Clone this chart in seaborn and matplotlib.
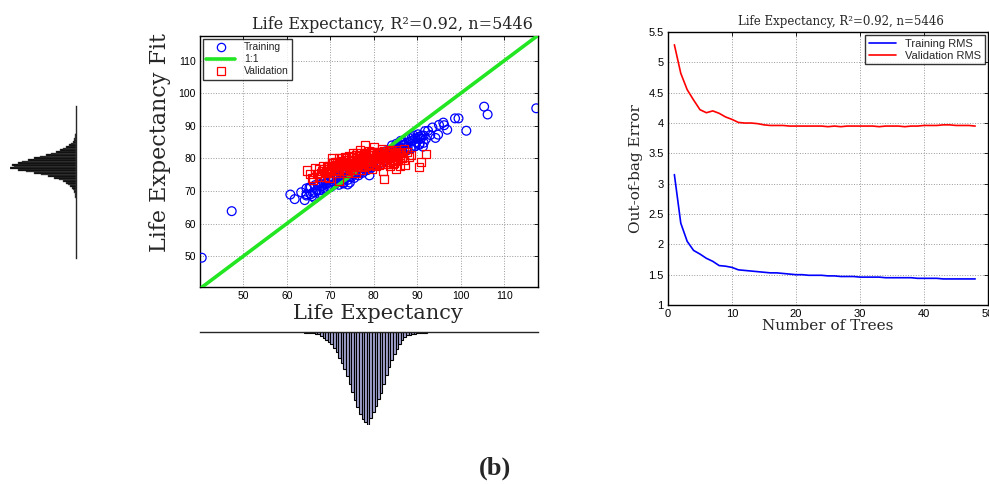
import numpy as np
import pandas as pd
import matplotlib
matplotlib.use("Agg")
import matplotlib.pyplot as plt
from matplotlib.lines import Line2D
from matplotlib.ticker import FormatStrFormatter
import seaborn as sns

# scatter: observed vs fitted life expectancy
train_x = [40.4, 47.3, 60.8, 61.8, 63.3, 64.1, 64.5, 65.2, 65.8, 66.4, 66.9, 67.5, 68.0, 68.4,
           69.0, 69.3, 70.1, 70.5, 71.0, 71.6, 72.0, 72.5, 73.0, 73.5, 74.0, 74.5, 75.0, 75.5,
           76.0, 76.5, 77.0, 77.5, 78.0, 78.5, 79.0, 79.5, 80.0, 80.5, 81.0, 81.5, 82.0, 82.5,
           83.0, 83.5, 84.0, 84.5, 85.0, 85.5, 86.0, 86.5, 87.0, 87.5, 88.0, 88.5, 89.0, 89.5,
           90.0, 90.5, 91.0, 91.3, 92.0, 92.5, 93.0, 93.5, 94.2, 94.8, 95.0, 96.0, 96.2, 96.9,
           98.7, 99.5, 101.3, 105.4, 106.2, 117.4, 66.0, 67.2, 68.8, 70.0, 71.2, 72.8, 73.8,
           74.8, 75.8, 76.8, 77.8, 78.8, 79.8, 80.8, 81.8, 82.8, 83.8, 84.8, 85.8, 86.8, 87.8,
           88.8, 89.8, 90.8, 88.2, 89.2, 90.2, 91.8, 86.2, 84.2, 85.2, 79.0, 73.0, 74.0,
           64.5, 65.5, 66.5, 67.5, 68.5, 69.5, 70.5, 71.5, 72.5, 73.5, 74.5, 75.5, 76.5, 77.5,
           78.5, 79.5, 80.5, 81.5, 82.5, 83.5, 84.5, 85.5, 86.5, 87.5, 88.5, 89.5, 90.5, 91.5,
           64.5, 65.5, 66.5, 67.5, 68.5, 69.5, 70.5, 71.5, 72.5, 73.5, 74.5, 75.5, 76.5, 77.5,
           78.5, 79.5, 80.5, 81.5, 82.5, 83.5, 84.5, 85.5, 86.5, 87.5, 88.5, 89.5, 90.5, 91.5]
train_y = [49.5, 63.8, 68.9, 67.5, 69.6, 67.2, 69.0, 71.1, 68.4, 67.8, 70.3, 69.1, 71.5, 70.2,
           72.3, 70.8, 71.2, 73.0, 72.0, 73.8, 71.9, 74.5, 72.6, 75.2, 73.4, 72.6, 75.8, 74.0,
           76.5, 74.8, 77.2, 75.6, 78.0, 76.4, 78.5, 77.2, 79.2, 77.8, 80.0, 78.6, 80.8, 79.2,
           81.5, 79.8, 82.2, 80.5, 82.8, 81.0, 83.5, 81.8, 84.2, 82.5, 85.0, 83.0, 85.6, 83.8,
           86.2, 84.5, 87.0, 83.6, 86.0, 88.5, 87.2, 89.5, 86.3, 87.3, 90.3, 91.0, 90.2, 88.8,
           92.3, 92.3, 88.5, 95.9, 93.5, 95.4, 69.5, 71.8, 73.4, 74.2, 74.9, 73.0, 76.5,
           74.2, 77.5, 75.5, 77.0, 79.5, 78.0, 81.0, 79.5, 82.2, 80.8, 83.5, 82.0, 84.8, 83.5,
           86.5, 85.0, 86.0, 86.2, 87.0, 87.4, 88.4, 85.4, 84.0, 84.5, 74.8, 72.3, 72.0,
           70.8, 71.2, 71.8, 72.4, 73.0, 73.6, 74.3, 74.9, 75.5, 76.1, 76.7, 77.3, 77.9, 78.6,
           79.2, 79.8, 80.4, 81.0, 81.6, 82.3, 82.9, 83.5, 84.1, 84.7, 85.3, 86.0, 86.6, 87.0,
           68.6, 69.0, 69.6, 70.2, 70.8, 71.4, 72.0, 72.6, 73.2, 73.9, 74.5, 75.1, 75.7, 76.3,
           76.9, 77.5, 78.1, 78.8, 79.4, 80.0, 80.6, 81.2, 81.8, 82.4, 83.0, 83.7, 84.2, 84.8]

valid_x = [64.6, 65.3, 65.8, 66.0, 66.4, 66.9, 67.5, 68.0, 68.4, 68.8, 69.2, 69.6, 70.0, 70.3,
           70.8, 71.2, 71.6, 72.0, 72.2, 72.6, 73.0, 73.4, 73.8, 74.2, 74.6, 75.0, 75.2, 75.5,
           75.9, 76.2, 76.5, 76.8, 77.1, 77.4, 77.8, 78.0, 78.3, 78.6, 78.9, 79.2, 79.5, 79.8,
           80.0, 80.3, 80.6, 80.9, 81.2, 81.5, 81.8, 82.1, 82.3, 82.6, 83.0, 83.3, 83.7, 84.0,
           84.4, 84.8, 85.2, 85.6, 86.0, 86.5, 87.0, 87.2, 88.0, 88.6, 90.4, 90.9, 92.0, 70.5,
           72.8, 74.4, 76.0, 77.5, 79.0, 80.5, 82.0, 83.5, 75.0, 77.0, 81.0, 83.0, 85.0, 73.5,
           71.5, 69.5, 67.5,
           68.5, 70.2, 71.8, 73.2, 74.7, 76.3, 78.1, 79.6, 81.3, 83.1, 84.6,
           69.8, 71.3, 72.9, 74.1, 75.8, 77.2, 78.9, 80.2, 82.4, 83.8, 85.3,
           71.0, 72.4, 74.0, 75.4, 76.9, 78.4, 79.9, 81.6, 82.9, 84.4, 86.1,
           73.3, 74.9, 76.6, 78.2, 79.7, 81.1, 82.7, 84.1, 85.6,
           76.1, 77.9, 79.4, 80.8, 82.3, 84.0,
           67.8, 69.1, 71.5, 73.6, 75.1, 77.0,
           69.3, 70.9, 72.5, 74.0, 75.6, 77.3, 78.9, 80.5, 82.1, 83.7, 85.4, 86.9,
           70.6, 72.1, 73.7, 75.3, 76.8, 78.4, 80.0, 81.5, 83.2, 84.8, 86.5,
           72.0, 73.6, 75.1, 76.7, 78.3, 79.8, 81.4, 83.0, 84.6, 86.2, 87.7]
valid_y = [76.3, 75.3, 74.0, 73.3, 76.9, 75.2, 74.2, 76.0, 77.8, 74.3, 75.5, 73.9, 76.2, 78.6,
           77.0, 75.4, 78.9, 73.0, 77.8, 76.3, 79.0, 77.2, 75.6, 78.5, 76.8, 79.5, 81.6, 77.6,
           75.6, 80.0, 78.4, 82.6, 79.5, 77.4, 81.2, 84.2, 79.6, 78.0, 82.4, 80.2, 76.8, 81.6,
           83.4, 79.0, 77.6, 82.0, 80.2, 78.4, 83.0, 76.3, 73.7, 80.8, 79.0, 81.8, 77.6, 80.4,
           78.2, 81.2, 76.9, 79.4, 77.8, 80.2, 82.8, 78.0, 80.5, 81.0, 77.4, 78.8, 81.3, 80.0,
           80.2, 80.6, 81.0, 80.4, 79.2, 80.8, 81.6, 82.4, 78.3, 78.8, 79.0, 80.0, 82.6, 78.2,
           76.5, 77.2, 76.8,
           76.6, 76.8, 77.0, 77.2, 77.3, 77.5, 77.7, 77.9, 78.1, 78.3, 78.5,
           77.8, 78.0, 78.2, 78.4, 78.6, 78.8, 79.0, 79.2, 79.4, 79.6, 79.8,
           79.0, 79.2, 79.4, 79.6, 79.8, 80.0, 80.2, 80.4, 80.6, 80.8, 81.0,
           80.3, 80.5, 80.7, 80.9, 81.1, 81.3, 81.5, 81.7, 81.9,
           81.5, 81.7, 81.9, 82.1, 82.3, 82.5,
           75.6, 75.8, 76.0, 76.2, 76.4, 76.6,
           77.2, 77.4, 77.6, 77.8, 78.0, 78.2, 78.4, 78.6, 78.8, 79.0, 79.2, 79.4,
           78.5, 78.7, 78.9, 79.1, 79.3, 79.5, 79.7, 79.9, 80.1, 80.3, 80.5,
           80.0, 80.2, 80.4, 80.6, 80.8, 81.0, 81.2, 81.4, 81.6, 81.8, 82.0]

# marginal histograms (pre-binned counts)
obs_bin_start, obs_bin_width = 64.0, 0.6
obs_counts = [0.5, 0.5, 1, 1, 1.5, 2, 4, 6, 8, 10, 12, 16, 20, 26, 31, 37, 44, 52, 60, 68, 75,
              82, 87, 90, 93, 86, 80, 74, 67, 61, 52, 43, 35, 28, 22, 17, 12, 8, 5, 3, 2.5, 2,
              1.5, 1, 1, 0.5, 0.5]
fit_bin_start, fit_bin_width = 68.0, 0.5
fit_counts = [1, 1, 1.5, 2, 2.5, 3.5, 4.5, 6, 8, 10, 13, 17, 22, 28, 35, 42, 50, 58, 66, 62,
              64, 58, 54, 48, 42, 36, 30, 25, 20, 16, 13, 10, 7, 5, 3.5, 2.5, 2, 1.5, 1, 0.5]

# out-of-bag error vs number of trees
n_trees = list(range(1, 49))
train_rms = [3.15, 2.35, 2.05, 1.90, 1.84, 1.77, 1.72, 1.65, 1.64, 1.62, 1.58, 1.57, 1.56, 1.55,
             1.54, 1.53, 1.53, 1.52, 1.51, 1.50, 1.50, 1.49, 1.49, 1.49, 1.48, 1.48, 1.47, 1.47,
             1.47, 1.46, 1.46, 1.46, 1.46, 1.45, 1.45, 1.45, 1.45, 1.45, 1.44, 1.44, 1.44, 1.44,
             1.43, 1.43, 1.43, 1.43, 1.43, 1.43]
valid_rms = [5.29, 4.82, 4.55, 4.38, 4.22, 4.17, 4.20, 4.16, 4.10, 4.06, 4.01, 4.00, 4.00, 3.99,
             3.97, 3.96, 3.96, 3.96, 3.95, 3.95, 3.95, 3.95, 3.95, 3.95, 3.94, 3.95, 3.94, 3.95,
             3.95, 3.95, 3.95, 3.95, 3.94, 3.95, 3.95, 3.95, 3.94, 3.95, 3.95, 3.96, 3.96, 3.96,
             3.97, 3.97, 3.96, 3.96, 3.96, 3.95]

title = "Life Expectancy, R²=0.92, n=5446"

sns.set_style("white")
plt.rcParams['font.family'] = ['Liberation Sans', 'DejaVu Sans']
serif = ['DejaVu Serif']

fig = plt.figure(figsize=(9.89, 4.84), dpi=100)

def matlab_axes(ax):
    ax.tick_params(direction='in', top=True, right=True, length=3, width=0.6,
                   labelsize=7.5, pad=3, colors='black')
    ax.grid(True, linestyle=':', color='#999999', linewidth=0.7)
    for s in ax.spines.values():
        s.set_visible(True)
        s.set_color('black')
        s.set_linewidth(1.0)

# ---- scatter panel
ax = fig.add_axes([0.2022, 0.407, 0.3418, 0.5186])
sns.scatterplot(x=train_x, y=train_y, ax=ax, marker='o', s=40, facecolor='none',
                edgecolor='blue', linewidth=0.9, zorder=3, legend=False)
ax.axline((50, 50), slope=1, color='#22e622', linewidth=2.6, zorder=4)
sns.scatterplot(x=valid_x, y=valid_y, ax=ax, marker='s', s=34, facecolor='none',
                edgecolor='red', linewidth=0.9, zorder=5, legend=False)
ax.set_xlim(40, 117.8)
ax.set_ylim(40.5, 117.6)
ax.set_xticks(range(50, 111, 10))
ax.set_yticks(range(50, 111, 10))
matlab_axes(ax)
ax.set_xlabel("Life Expectancy", family=serif, fontsize=15)
ax.set_ylabel("Life Expectancy Fit", family=serif, fontsize=16)
ax.xaxis.set_label_coords(0.525, -0.068)
ax.yaxis.set_label_coords(-0.085, 0.575)
ax.set_title(title, family=serif, fontsize=11.5, loc='right', pad=5, x=0.985)
handles = [Line2D([], [], ls='none', marker='o', mfc='none', mec='blue', ms=6, mew=0.9),
           Line2D([], [], color='#22e622', lw=2.6),
           Line2D([], [], ls='none', marker='s', mfc='none', mec='red', ms=5.5, mew=0.9)]
leg = ax.legend(handles, ['Training', '1:1', 'Validation'], loc='upper left', fontsize=7.5,
                frameon=True, fancybox=False, edgecolor='black', borderpad=0.3,
                labelspacing=0.2, handlelength=2.8, borderaxespad=0.3)
leg.get_frame().set_linewidth(1.0)

# ---- bottom histogram (observed)
obs_centers = [obs_bin_start + obs_bin_width * (i + 0.5) for i in range(len(obs_counts))]
obs_edges = [obs_bin_start + obs_bin_width * i for i in range(len(obs_counts) + 1)]
axb = fig.add_axes([0.2022, 0.1219, 0.3418, 0.1921])
sns.histplot(x=obs_centers, weights=obs_counts, bins=obs_edges, ax=axb,
             color='#a4a6d2', edgecolor='black', linewidth=0.8, alpha=1)
axb.set_xlim(40, 117.8)
axb.set_ylim(max(obs_counts), 0)
axb.set_xticks([]); axb.set_yticks([])
axb.set_xlabel(''); axb.set_ylabel('')
for k, s in axb.spines.items():
    s.set_visible(k == 'top')
axb.spines['top'].set_linewidth(1.0)

# ---- left histogram (fitted)
fit_centers = [fit_bin_start + fit_bin_width * (i + 0.5) for i in range(len(fit_counts))]
fit_edges = [fit_bin_start + fit_bin_width * i for i in range(len(fit_counts) + 1)]
axl = fig.add_axes([10 / 989, 0.467, 66 / 989, 0.314])
sns.histplot(y=fit_centers, weights=fit_counts, bins=fit_edges, ax=axl,
             color='black', edgecolor='#555555', linewidth=0.3, alpha=1)
axl.set_ylim(49.8, 96.2)
axl.set_xlim(max(fit_counts), 0)
axl.set_xticks([]); axl.set_yticks([])
axl.set_xlabel(''); axl.set_ylabel('')
for k, s in axl.spines.items():
    s.set_visible(k == 'right')
axl.spines['right'].set_linewidth(1.0)

# ---- out-of-bag error panel
axr = fig.add_axes([0.6754, 0.3698, 0.3236, 0.564])
err = pd.DataFrame({'trees': n_trees * 2,
                    'rms': train_rms + valid_rms,
                    'set': ['Training RMS'] * len(n_trees) + ['Validation RMS'] * len(n_trees)})
sns.lineplot(data=err, x='trees', y='rms', hue='set', palette=['blue', 'red'],
             linewidth=1.2, ax=axr)
axr.set_xlim(0, 50)
axr.set_ylim(1, 5.5)
axr.set_xticks(range(0, 51, 10))
axr.set_yticks(np.arange(1, 5.51, 0.5))
axr.yaxis.set_major_formatter(FormatStrFormatter('%g'))
matlab_axes(axr)
axr.tick_params(labelsize=8)
axr.set_xlabel("Number of Trees", family=serif, fontsize=11, labelpad=0)
axr.set_ylabel("Out-of-bag Error", family=serif, fontsize=11, labelpad=4)
axr.set_title(title, family=serif, fontsize=8.5, pad=5, x=0.54)
leg2 = axr.legend(loc='upper right', fontsize=8, frameon=True, fancybox=False,
                  edgecolor='black', borderpad=0.3, labelspacing=0.2, handlelength=2.5,
                  borderaxespad=0.3, title=None)
leg2.get_frame().set_linewidth(1.0)

fig.text(495 / 989, 1 - 468 / 484, "(b)", family=['Liberation Serif'], fontweight='bold',
         fontsize=19, ha='center', va='center')

fig.savefig("out.png", dpi=100)
